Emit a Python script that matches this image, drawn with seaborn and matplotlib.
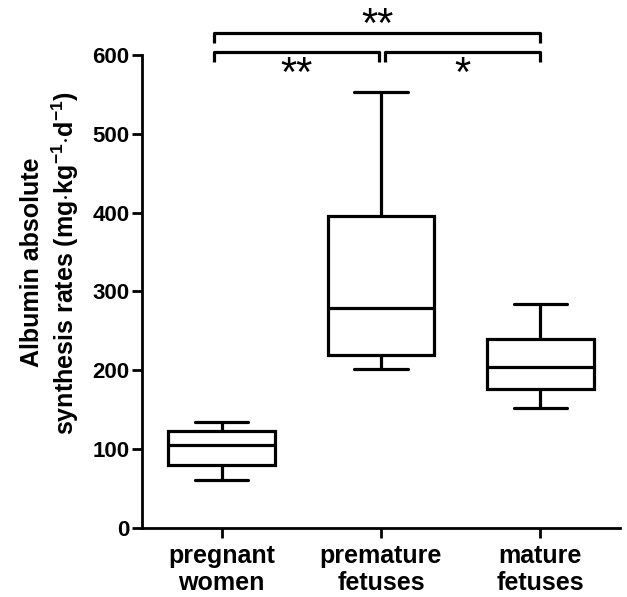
import matplotlib
matplotlib.use("Agg")
import matplotlib.pyplot as plt
import seaborn as sns
import pandas as pd

# valores: min, Q1, mediana, Q3, max por grupo
grupos = ["pregnant\nwomen", "premature\nfetuses", "mature\nfetuses"]
pregnant = [61, 79, 105, 123, 134]
premature = [202, 219, 279, 396, 553]
mature = [152, 176, 204, 239, 284]
yticks = [0, 100, 200, 300, 400, 500, 600]

df = pd.DataFrame({
    "grupo": [grupos[0]] * 5 + [grupos[1]] * 5 + [grupos[2]] * 5,
    "tasa": pregnant + premature + mature,
})

sns.set_style("ticks")
plt.rcParams["font.family"] = ["Liberation Sans", "DejaVu Sans"]
plt.rcParams["font.weight"] = "bold"
plt.rcParams["mathtext.fontset"] = "custom"
plt.rcParams["mathtext.bf"] = "Liberation Sans:bold"
plt.rcParams["mathtext.rm"] = "Liberation Sans:bold"
plt.rcParams["mathtext.default"] = "bf"
for k in ["text.color", "axes.labelcolor", "xtick.color", "ytick.color", "axes.edgecolor"]:
    plt.rcParams[k] = "black"

fig = plt.figure(figsize=(6.27, 5.97), dpi=100)
ax = fig.add_axes([0.2265, 0.1161, 0.7623, 0.871])

sns.boxplot(data=df, x="grupo", y="tasa", order=grupos, whis=(0, 100),
            color="white", linecolor="black", linewidth=2.3, width=0.67,
            saturation=1, ax=ax)

ax.set_xlim(-0.5, 2.5)
ax.set_ylim(0, 660)
ax.set_yticks(yticks)
ax.spines["left"].set_bounds(0, 600)
sns.despine(ax=ax)
for s in ["left", "bottom"]:
    ax.spines[s].set_linewidth(2.0)
ax.tick_params(axis="both", width=2.0, length=7, direction="out")
ax.tick_params(axis="y", pad=2, labelsize=16)
ax.tick_params(axis="x", pad=5, labelsize=18)
for lab in ax.get_xticklabels():
    lab.set_linespacing(1.12)
    lab.set_fontweight("bold")
for lab in ax.get_yticklabels():
    lab.set_fontweight("bold")

ax.set_xlabel("")
ax.set_ylabel("Albumin absolute\nsynthesis rates (mg$\\cdot$kg$^{-1}$$\\cdot$d$^{-1}$)",
              fontsize=18, fontweight="bold", linespacing=1.25)
ax.yaxis.set_label_coords(-0.127, 0.51)

# Barras de significancia
def bracket(x1, x2, y, h, texto, ty):
    ax.plot([x1, x1, x2, x2], [y - h, y, y, y - h], color="black", lw=2.3,
            clip_on=False, solid_capstyle="butt")
    ax.text((x1 + x2) / 2, ty, texto, ha="center", va="center",
            fontsize=30, fontweight="normal")

bracket(-0.05, 0.985, 604, 13, "**", 575)
bracket(1.025, 2.0, 604, 13, "*", 575)
bracket(-0.05, 2.0, 628, 13, "**", 637)

fig.savefig("out.png", dpi=100)
